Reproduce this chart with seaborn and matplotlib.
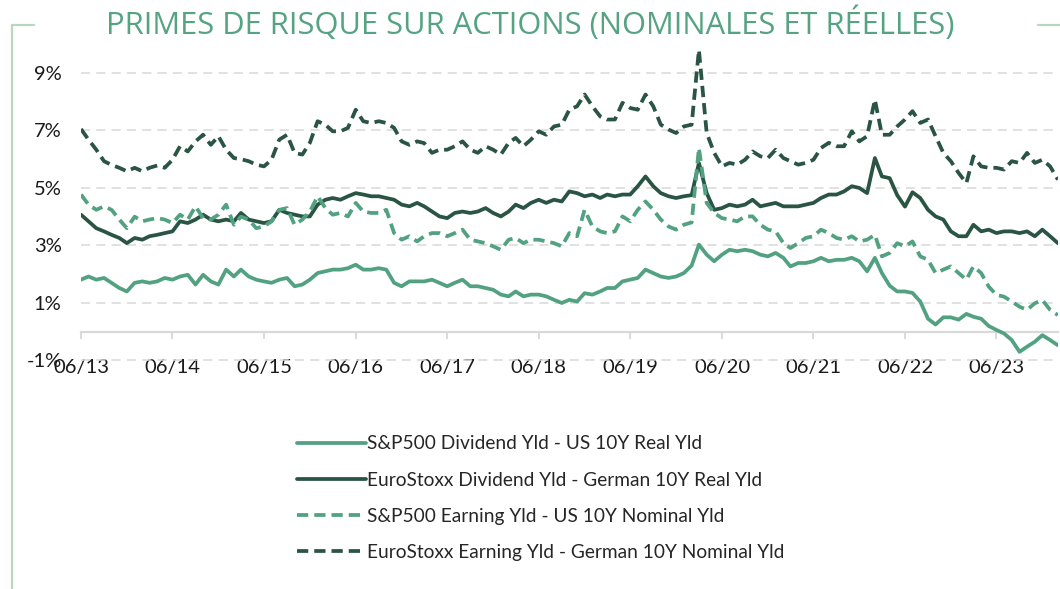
import pandas as pd
import seaborn as sns
import matplotlib.pyplot as plt
import matplotlib.dates as mdates
from matplotlib.lines import Line2D
from matplotlib.ticker import FuncFormatter

# Monthly observations, Jun 2013 -> Feb 2024 (values in %)
months = pd.date_range("2013-06-01", "2024-02-01", freq="MS")

sp_div_real = [
    1.81, 1.92, 1.81, 1.87, 1.70, 1.52, 1.40, 1.70, 1.75, 1.70, 1.75, 1.87, 1.81, 1.92, 1.98, 1.64, 1.98, 1.75, 1.64, 2.16, 1.92, 2.16,
    1.92, 1.81, 1.75, 1.70, 1.81, 1.87, 1.58, 1.64, 1.81, 2.04, 2.10, 2.16, 2.16, 2.21, 2.33, 2.16, 2.16, 2.21, 2.16, 1.70, 1.58, 1.75,
    1.75, 1.75, 1.81, 1.70, 1.58, 1.70, 1.81, 1.58, 1.58, 1.52, 1.46, 1.29, 1.23, 1.40, 1.23, 1.29, 1.29, 1.23, 1.11, 1.00, 1.11,
    1.05, 1.34, 1.29, 1.40, 1.52, 1.52, 1.75, 1.81, 1.87, 2.16, 2.04, 1.92, 1.87, 1.92, 2.04, 2.30, 3.03, 2.68, 2.45, 2.68, 2.85, 2.80,
    2.85, 2.80, 2.68, 2.62, 2.74, 2.57, 2.27, 2.39, 2.39, 2.45, 2.57, 2.45, 2.50, 2.50, 2.57, 2.45, 2.10, 2.57, 2.04, 1.60, 1.40,
    1.40, 1.35, 1.05, 0.45, 0.25, 0.50, 0.50, 0.42, 0.62, 0.52, 0.45, 0.20, 0.06, -0.06, -0.29, -0.70, -0.52, -0.35, -0.12, -0.29, -0.47,
]

eu_div_real = [
    4.07, 3.84, 3.60, 3.49, 3.37, 3.26, 3.08, 3.26, 3.20, 3.32, 3.37, 3.43, 3.49, 3.84, 3.78, 3.90, 4.07, 3.90, 3.84, 3.90, 3.84, 4.13,
    3.90, 3.84, 3.78, 3.84, 4.24, 4.13, 4.07, 4.01, 4.01, 4.42, 4.59, 4.65, 4.59, 4.71, 4.82, 4.77, 4.71, 4.71, 4.65, 4.59, 4.42, 4.36,
    4.48, 4.36, 4.18, 4.01, 3.95, 4.13, 4.18, 4.13, 4.18, 4.30, 4.13, 4.01, 4.18, 4.42, 4.30, 4.48, 4.59, 4.48, 4.59, 4.53, 4.88,
    4.82, 4.71, 4.77, 4.65, 4.77, 4.71, 4.77, 4.77, 5.06, 5.40, 5.06, 4.82, 4.71, 4.65, 4.71, 4.75, 5.87, 4.82, 4.24, 4.30, 4.42, 4.36,
    4.42, 4.59, 4.36, 4.42, 4.48, 4.36, 4.36, 4.36, 4.42, 4.48, 4.65, 4.77, 4.77, 4.88, 5.06, 5.00, 4.82, 6.04, 5.40, 5.34, 4.75,
    4.35, 4.85, 4.65, 4.24, 4.01, 3.90, 3.49, 3.32, 3.32, 3.72, 3.49, 3.55, 3.43, 3.49, 3.49, 3.43, 3.49, 3.32, 3.55, 3.32, 3.08,
]

sp_earn_nom = [
    4.77, 4.42, 4.24, 4.36, 4.24, 3.90, 3.60, 4.00, 3.84, 3.90, 3.95, 3.90, 3.78, 4.07, 3.90, 4.36, 3.95, 3.90, 4.07, 4.42, 3.72, 4.00,
    3.90, 3.60, 3.66, 3.84, 4.24, 4.30, 3.72, 3.90, 4.18, 4.71, 4.30, 4.07, 4.13, 4.01, 4.48, 4.18, 4.13, 4.13, 4.24, 3.43, 3.20, 3.32,
    3.14, 3.32, 3.43, 3.43, 3.32, 3.43, 3.55, 3.20, 3.14, 3.08, 2.97, 2.85, 3.20, 3.26, 3.08, 3.20, 3.20, 3.14, 3.08, 2.97, 3.43,
    3.32, 4.24, 3.66, 3.49, 3.43, 3.49, 4.01, 3.84, 4.24, 4.53, 4.24, 3.90, 3.66, 3.55, 3.72, 3.80, 6.39, 4.48, 4.13, 3.95, 3.90, 3.84,
    4.01, 4.01, 3.72, 3.55, 3.49, 3.08, 2.91, 3.08, 3.26, 3.32, 3.55, 3.43, 3.26, 3.20, 3.32, 3.14, 3.20, 3.37, 2.62, 2.74, 3.08,
    2.97, 3.14, 2.62, 2.50, 2.04, 2.16, 2.27, 2.04, 1.81, 2.27, 2.04, 1.57, 1.28, 1.22, 1.05, 0.87, 0.76, 0.99, 1.10, 0.76, 0.58,
]

eu_earn_nom = [
    7.05, 6.68, 6.33, 5.93, 5.80, 5.70, 5.58, 5.70, 5.58, 5.70, 5.78, 5.70, 5.98, 6.45, 6.27, 6.62, 6.85, 6.50, 6.80, 6.33, 6.04, 6.00,
    5.93, 5.81, 5.75, 5.98, 6.68, 6.85, 6.22, 6.16, 6.57, 7.32, 7.20, 6.97, 6.97, 7.09, 7.72, 7.32, 7.26, 7.32, 7.26, 7.09, 6.62, 6.50,
    6.62, 6.56, 6.22, 6.33, 6.33, 6.45, 6.62, 6.33, 6.22, 6.45, 6.33, 6.16, 6.57, 6.74, 6.45, 6.68, 6.97, 6.85, 7.14, 7.20, 7.72,
    7.84, 8.25, 7.84, 7.49, 7.38, 7.38, 7.96, 7.78, 7.72, 8.25, 7.84, 7.20, 7.03, 6.91, 7.14, 7.20, 9.80, 6.91, 6.22, 5.75, 5.87, 5.81,
    5.98, 6.27, 6.10, 6.04, 6.33, 6.04, 5.93, 5.81, 5.87, 5.98, 6.39, 6.57, 6.45, 6.45, 6.97, 6.62, 6.80, 8.07, 6.85, 6.85, 7.14,
    7.38, 7.67, 7.26, 7.38, 6.80, 6.22, 5.93, 5.52, 5.17, 6.10, 5.75, 5.70, 5.70, 5.64, 5.93, 5.87, 6.22, 5.87, 5.98, 5.75, 5.29,
]

labels = [
    "S&P500 Dividend Yld - US 10Y Real Yld",
    "EuroStoxx Dividend Yld - German 10Y Real Yld",
    "S&P500 Earning Yld - US 10Y Nominal Yld",
    "EuroStoxx Earning Yld - German 10Y Nominal Yld",
]
y_ticks = [-1, 1, 3, 5, 7, 9]

LIGHT = "#52a282"
DARK = "#2a5443"
DASH = (0, (3, 1.6))

sns.set_theme(style="white")
plt.rcParams["font.family"] = ["Lato", "DejaVu Sans"]

fig = plt.figure(figsize=(10.6, 5.89), dpi=100)
ax = fig.add_axes([0.0764, 0.388, 0.9216, 0.537])

series = [
    (sp_div_real, LIGHT, "-"),
    (eu_div_real, DARK, "-"),
    (sp_earn_nom, LIGHT, DASH),
    (eu_earn_nom, DARK, DASH),
]
for (vals, col, ls), lab in zip(series, labels):
    df = pd.DataFrame({"date": months, "value": vals})
    sns.lineplot(data=df, x="date", y="value", ax=ax, color=col,
                 linestyle=ls, linewidth=2.7, label=lab, zorder=3)

ax.set_xlim(months[0], months[-1])
ax.set_ylim(-1, 10)

# dashed horizontal grid
for v in y_ticks:
    ax.axhline(v, color="#d9d9d9", linewidth=1.1, linestyle=(0, (6, 4)),
               zorder=1, clip_on=False)

for s in ["top", "right", "left"]:
    ax.spines[s].set_visible(False)
ax.spines["bottom"].set_position(("data", 0))
ax.spines["bottom"].set_color("#d9d9d9")
ax.spines["bottom"].set_linewidth(1.6)
ax.spines["bottom"].set_zorder(2)

ax.set_yticks(y_ticks)
ax.yaxis.set_major_formatter(FuncFormatter(lambda v, p: f"{int(v)}%"))
ax.tick_params(axis="y", length=0, pad=14, labelsize=14.5, colors="#1a1a1a")

ax.xaxis.set_major_locator(mdates.MonthLocator(bymonth=6, bymonthday=1))
ax.xaxis.set_major_formatter(mdates.DateFormatter("%m/%y"))
ax.tick_params(axis="x", direction="out", length=5, width=1.4, color="#d9d9d9",
               pad=15, labelsize=14.5, labelcolor="#1a1a1a", bottom=True)
ax.set_xlabel("")
ax.set_ylabel("")

ax.get_legend().remove()
handles, labs = ax.get_legend_handles_labels()
fig.legend(handles, labs, loc="upper center", bbox_to_anchor=(0.51, 0.29),
           frameon=False, fontsize=13.8, handlelength=3.6, handletextpad=0.05,
           labelspacing=1.0)

fig.text(0.5, 0.96, "PRIMES DE RISQUE SUR ACTIONS (NOMINALES ET RÉELLES)",
         ha="center", va="center", fontsize=22.2, color="#55a383",
         family=["Open Sans", "DejaVu Sans"])

# light green bracket around the chart
frame_col = "#b9d6bf"
fig.add_artist(Line2D([0.0113, 0.0113], [0.0, 0.957], color=frame_col, linewidth=1.6))
fig.add_artist(Line2D([0.0113, 0.032], [0.957, 0.957], color=frame_col, linewidth=1.6))
fig.add_artist(Line2D([0.979, 1.0], [0.957, 0.957], color=frame_col, linewidth=1.6))

fig.savefig("out.png", dpi=100)
